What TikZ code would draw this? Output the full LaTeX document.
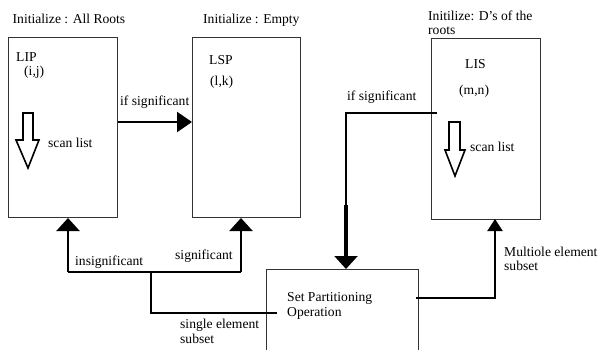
\documentclass[tikz,border=0pt]{standalone}
\usepackage{fontspec}
\setmainfont{Liberation Serif}
\usetikzlibrary{arrows.meta}
\begin{document}
\begin{tikzpicture}[x=1pt,y=-1pt,
  box/.style={draw=black!80,line width=0.8pt,anchor=north west,inner sep=0,outer sep=0},
  lbl/.style={anchor=base west,inner sep=0,font=\fontsize{13.6}{15}\selectfont},
  conn/.style={line width=2.2pt,black},
  bigtip/.style={-{Triangle[length=15pt,width=20pt]}},
  tip/.style={-{Triangle[length=13pt,width=23pt]}},
  smalltip/.style={-{Triangle[length=12pt,width=15pt]}},
  hollow/.style={draw=black,line width=1.6pt,fill=white,line join=miter}]
\useasboundingbox (0,0) rectangle (602,350);
% boxes
\node[box,minimum width=109pt,minimum height=180pt] (lip) at (8,37) {};
\node[box,minimum width=108pt,minimum height=180pt] (lsp) at (192,37) {};
\node[box,minimum width=109pt,minimum height=181pt] (lis) at (431,38) {};
\node[box,minimum width=152pt,minimum height=81pt] (sp) at (266,269) {};
% titles
\node[lbl] (t1) at (12.5,24) {Initialize : All Roots};
\node[lbl] (t2) at (203,24) {Initialize : Empty};
\node[lbl] (t3) at (428,21) {Initilize: D's of the};
\node[lbl] (t3b) at (428,35) {roots};
% box texts
\node[lbl] (lipn) at (16,62) {LIP};
\node[lbl] (lipc) at (24,76) {(i,j)};
\node[lbl] (lspn) at (209,65) {LSP};
\node[lbl] (lspc) at (210,86) {(l,k)};
\node[lbl] (lisn) at (465,69) {LIS};
\node[lbl] (lisc) at (459,95) {(m,n)};
\node[lbl] (sp1) at (287,301) {Set Partitioning};
\node[lbl] (sp2) at (287,316) {Operation};
% hollow arrows
\path[hollow] (23,113) -- (33,113) -- (33,140) -- (39,140) -- (28,168) -- (16,140) -- (23,140) -- cycle;
\node[lbl] (scan1) at (48,147) {scan list};
\path[hollow] (449,122) -- (460,122) -- (460,150) -- (465,150) -- (455,176) -- (445,150) -- (449,150) -- cycle;
\node[lbl] (scan2) at (470,151) {scan list};
% LIP -> LSP
\coordinate (a1) at (118,122);
\coordinate (a2) at (192,122);
\draw[conn,bigtip] (a1) -- (a2);
\node[lbl] (ifs1) at (120,106) {if significant};
% LIS -> SP
\coordinate (b1) at (437,113);
\coordinate (b2) at (346,269);
\draw[conn,tip] (b1) -- (346,113) -- (b2);
\draw[line width=3.4pt] (346,205) -- (346,258);
\node[lbl] (ifs2) at (347,101) {if significant};
% SP -> LIS
\coordinate (c1) at (416,298);
\coordinate (c2) at (495,219);
\draw[conn,smalltip] (c1) -| (c2);
\node[lbl] (mul1) at (504,256) {Multiole element};
\node[lbl] (mul2) at (504,270) {subset};
% SP -> LIP / LSP
\coordinate (d1) at (277,313);
\coordinate (d2) at (151,272);
\coordinate (e1) at (68,272);
\coordinate (e2) at (241,272);
\coordinate (e1t) at (68,218);
\coordinate (e2t) at (241,218);
\draw[conn] (d1) -| (d2);
\draw[conn] (e1) -- (e2);
\draw[conn,tip] (e1) -- (e1t);
\draw[conn,tip] (e2) -- (e2t);
\node[lbl] (ins) at (75,265.5) {insignificant};
\node[lbl] (sig) at (175,259) {significant};
\node[lbl] (sg1) at (180,328) {single element};
\node[lbl] (sg2) at (180,343) {subset};
\end{tikzpicture}
\end{document}
